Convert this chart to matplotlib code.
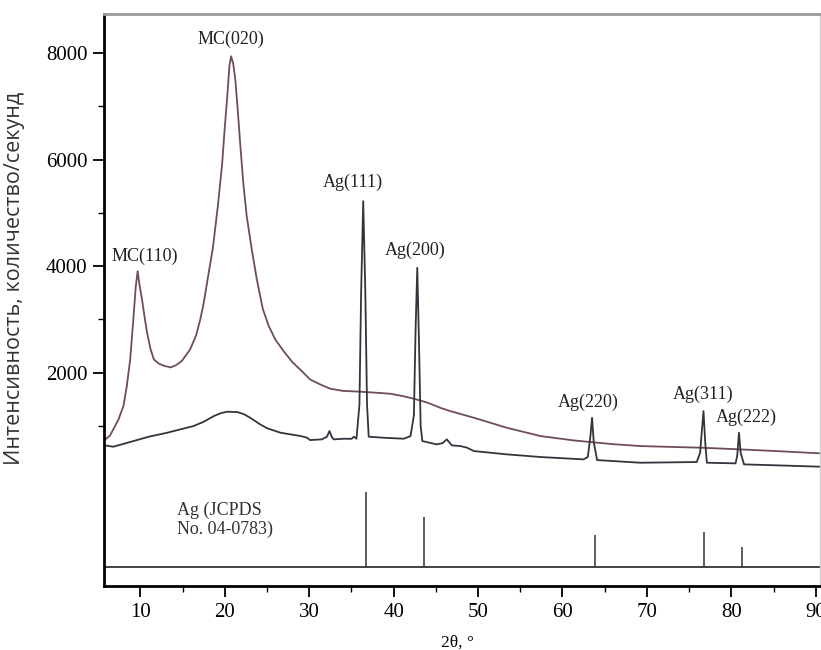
import matplotlib
matplotlib.use('Agg')
import matplotlib.pyplot as plt
from matplotlib.ticker import MultipleLocator, FixedLocator

# Data #
# MC + Ag composite (upper curve)
mc_x = [5.7, 5.85, 6.4, 6.8, 7.4, 8.0, 8.4, 8.8, 9.2, 9.45, 9.68, 9.9, 10.2, 10.5, 10.8, 11.2,
        11.6, 12.2, 12.8, 13.6, 14.2, 14.9, 15.9, 16.6, 17.1, 17.5, 17.9, 18.6, 19.2, 19.7,
        20.0, 20.3, 20.55, 20.75, 21.0, 21.25, 21.55, 21.85, 22.2, 22.6, 23.2, 23.8, 24.5,
        25.2, 26.0, 27.0, 28.0, 29.0, 30.1, 31.3, 32.5, 34.0, 36.1, 37.5, 39.6, 41.0, 42.4,
        44.0, 45.5, 46.7, 49.5, 53.4, 57.4, 61.3, 63.3, 66.0, 69.2, 72.5, 76.4, 81.1, 86.0,
        90.6]
mc_y = [720, 750, 820, 937, 1120, 1375, 1750, 2250, 3060, 3600, 3906, 3650, 3375, 3050, 2750,
        2450, 2250, 2170, 2130, 2100, 2140, 2218, 2437, 2700, 3000, 3300, 3687, 4350, 5150,
        5937, 6600, 7187, 7750, 7937, 7800, 7500, 6900, 6250, 5550, 4937, 4312, 3750, 3200,
        2880, 2620, 2400, 2200, 2050, 1875, 1781, 1700, 1660, 1644, 1630, 1606, 1565, 1512,
        1440, 1344, 1281, 1156, 968, 812, 731, 700, 660, 625, 610, 594, 562, 525,
        487]

# Ag nanoparticles (lower curve)
ag_x = [5.7, 6.8, 9.2, 11.0, 13.2, 14.8, 16.3, 17.5, 18.7, 19.5, 20.3, 21.5, 22.3, 23.0, 24.2,
        25.0, 26.6, 29.0, 29.75, 30.1, 31.5, 32.1, 32.4, 32.7, 32.9, 34.1, 35.0, 35.3, 35.6,
        35.95, 36.15, 36.4, 36.65, 36.85, 37.05, 38.8, 41.2, 42.0, 42.4, 42.6, 42.8, 43.0,
        43.2, 43.4, 45.1, 45.8, 46.3, 46.9, 47.9, 48.7, 49.5, 53.4, 57.4, 62.5, 63.0, 63.3,
        63.5, 63.7, 64.1, 69.2, 75.9, 76.3, 76.5, 76.7, 76.9, 77.1, 80.5, 80.7, 80.9, 81.1,
        81.5, 86.0, 90.6]
ag_y = [640, 612, 719, 800, 875, 940, 1000, 1080, 1187, 1240, 1269, 1262, 1220, 1156, 1031,
        960, 875, 812, 781, 737, 750, 800, 906, 790, 750, 762, 760, 800, 762,
        1400, 3500, 5219, 3500, 1400, 800, 781, 762, 812, 1200, 2800, 3969, 2600,
        1000, 719, 656, 680, 750, 637, 625, 594, 531, 469, 419, 375, 420, 800,
        1156, 700, 362, 312, 325, 500, 900, 1281, 700, 312, 300, 450, 875, 500,
        281, 260, 237]

# JCPDS 04-0783 reference sticks
stick_x = [36.7, 43.6, 63.8, 76.8, 81.3]
stick_top = [-231, -700, -1050, -988, -1269]
stick_base = -1644

# Peak labels
peak_labels = ['MC(110)', 'MC(020)', 'Ag(111)', 'Ag(200)', 'Ag(220)', 'Ag(311)', 'Ag(222)']
label_x = [10.5, 20.7, 35.2, 42.5, 63.1, 76.6, 81.8]
label_y = [4190, 8260, 5575, 4290, 1440, 1594, 1156]

serif = 'Liberation Serif'

# Figure #
fig = plt.figure(figsize=(8.21, 6.5), dpi=100)
ax = fig.add_axes([0.1267, 0.0985, 0.8721, 0.88])

ax.plot(mc_x, mc_y, color='#6f4c59', lw=1.3)
ax.plot(ag_x, ag_y, color='#34343f', lw=1.3)

ax.axhline(stick_base, color='#222222', lw=1.2)
ax.vlines(stick_x, stick_base, stick_top, color='#333333', lw=1.1)

for lab, lx, ly in zip(peak_labels, label_x, label_y):
    ax.text(lx, ly, lab, ha='center', va='center', fontsize=13, family=serif, color='#222222')

ax.text(14.3, -765, 'Ag (JCPDS\nNo. 04-0783)', ha='left', va='center', fontsize=13,
        family=serif, color='#333333', linespacing=1.1)

# Axes #
ax.set_xlim(5.7, 90.5)
ax.set_ylim(-2000, 8730)

ax.xaxis.set_major_locator(MultipleLocator(10))
ax.xaxis.set_minor_locator(MultipleLocator(5))
ax.yaxis.set_major_locator(FixedLocator([2000, 4000, 6000, 8000]))
ax.yaxis.set_minor_locator(FixedLocator([1000, 3000, 5000, 7000]))

ax.tick_params(which='major', direction='out', length=8, width=1.3, labelsize=15, pad=4)
ax.tick_params(which='minor', direction='out', length=4, width=1.0)
for lbl in ax.get_xticklabels() + ax.get_yticklabels():
    lbl.set_family(serif)

ax.spines['left'].set_linewidth(2)
ax.spines['bottom'].set_linewidth(2)
ax.spines['top'].set_color('#9a9a9a')
ax.spines['top'].set_linewidth(2)
ax.spines['right'].set_color('#cccccc')
ax.spines['right'].set_linewidth(1)

ax.set_ylabel('Интенсивность, количество/секунд', fontsize=15.5, family='Open Sans',
              color='#333333')
ax.yaxis.set_label_coords(-0.11, 0.537)

fig.text(457 / 821, 1 - 643 / 650, '2θ, °', ha='center', va='center', fontsize=12.5,
         family=serif)

plt.savefig('out.png', dpi=100)
